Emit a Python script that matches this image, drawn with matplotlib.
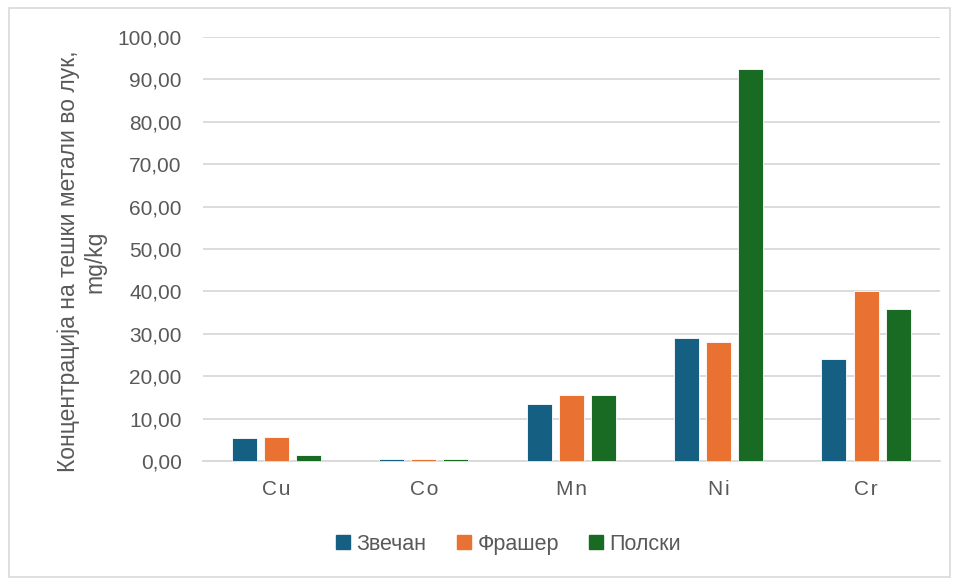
import numpy as np
import matplotlib.pyplot as plt
import matplotlib.patches as mpatches

plt.rcParams['font.family'] = ['Liberation Sans', 'DejaVu Sans']

metals = ["Cu", "Co", "Mn", "Ni", "Cr"]
zvechan = [5.3, 0.4, 13.4, 29.1, 24.1]
frasher = [5.6, 0.4, 15.6, 28.0, 40.2]
polski = [1.5, 0.4, 15.6, 92.5, 35.8]
series_names = ["Звечан", "Фрашер", "Полски"]
colors = ["#156082", "#E97132", "#196B24"]

fig = plt.figure(figsize=(9.56, 5.79), dpi=100)
ax = fig.add_axes([0.212, 0.204, 0.771, 0.732])

x = np.arange(len(metals))
step = 0.218
width = 0.17
for i, (vals, name, c) in enumerate(zip([zvechan, frasher, polski], series_names, colors)):
    ax.bar(x + (i - 1) * step, vals, width, color=c, edgecolor='white', linewidth=0.6,
           label=name, zorder=3)

ax.set_ylim(0, 100)
ax.set_xlim(-0.5, len(metals) - 0.5)
ax.set_yticks(np.arange(0, 101, 10))
ax.set_yticklabels([f"{v:.2f}".replace('.', ',') for v in np.arange(0, 101, 10)])
ax.set_xticks(x)
ax.set_xticklabels(["\u200a".join(m) for m in metals])
ax.grid(axis='y', color='#d9d9d9', linewidth=1.3, zorder=0)
for s in ['top', 'right', 'left']:
    ax.spines[s].set_visible(False)
ax.spines['bottom'].set_color('#d9d9d9')
ax.spines['bottom'].set_linewidth(1.3)
ax.tick_params(axis='both', length=0, labelsize=15, colors='#595959')
ax.tick_params(axis='y', pad=15)
ax.tick_params(axis='x', pad=14)

ax.set_ylabel("Концентрација на тешки метали во лук,\nmg/kg", fontsize=16.5, color='#595959')
ax.yaxis.set_label_coords(-0.131, 0.47)

handles = [mpatches.Patch(color=c, label=n) for c, n in zip(colors, series_names)]
fig.legend(handles=handles, loc='center', bbox_to_anchor=(0.532, 0.06), ncol=3, frameon=False,
           fontsize=15.5, labelcolor='#595959', handlelength=0.65, handleheight=0.65,
           handletextpad=0.3, columnspacing=1.4)

fig.patches.append(mpatches.Rectangle((0.009, 0.003), 0.985, 0.983, transform=fig.transFigure,
                                      fill=False, edgecolor='#d9d9d9', linewidth=1.2))

plt.savefig("out.png", dpi=100)
